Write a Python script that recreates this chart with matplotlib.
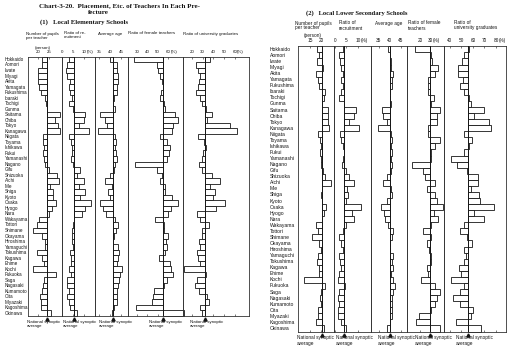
import matplotlib
matplotlib.use("Agg")
import matplotlib.pyplot as plt
from matplotlib import transforms

# ---------------- data ----------------
prefectures = ["Hokkaido", "Aomori", "Iwate", "Miyagi", "Akita", "Yamagata", "Fukushima",
               "Ibaraki", "Tochigi", "Gunma", "Saitama", "Chiba", "Tokyo", "Kanagawa",
               "Niigata", "Toyama", "Ishikawa", "Fukui", "Yamanashi", "Nagano", "Gifu",
               "Shizuoka", "Aichi", "Mie", "Shiga", "Kyoto", "Osaka", "Hyogo", "Nara",
               "Wakayama", "Tottori", "Shimane", "Okayama", "Hiroshima", "Yamaguchi",
               "Tokushima", "Kagawa", "Ehime", "Kochi", "Fukuoka", "Saga", "Nagasaki",
               "Kumamoto", "Oita", "Miyazaki", "Kagoshima", "Okinawa"]

# (1) Local elementary schools
el_pupils = [22.0, 21.8, 20.2, 20.2, 19.9, 20.7, 21.3, 23.2, 23.7, 24.3, 30.1, 27.8, 29.3, 30.1,
             22.2, 22.5, 22.9, 22.2, 22.9, 23.2, 25.2, 28.5, 29.8, 25.5, 27.0, 26.7, 28.2, 26.6,
             25.1, 20.5, 19.8, 17.9, 22.0, 23.2, 23.2, 19.8, 22.0, 22.8, 17.9, 28.1, 22.8, 22.3,
             22.0, 21.0, 21.3, 21.3, 25.8]
el_pupils_avg = 24.0
el_recruit = [3.0, 2.3, 2.0, 2.3, 3.8, 3.0, 3.8, 4.5, 3.0, 5.0, 10.6, 9.8, 7.6, 12.1, 3.0, 4.2,
              4.5, 4.5, 4.2, 4.8, 8.3, 6.8, 9.8, 7.6, 10.6, 8.3, 13.4, 10.6, 9.1, 5.6, 5.0, 4.5,
              4.5, 4.5, 5.0, 3.5, 4.2, 4.2, 3.0, 4.1, 2.3, 2.3, 3.0, 2.3, 3.0, 3.8, 6.8]
el_recruit_avg = 5.3
el_age = [40.0, 43.0, 43.0, 43.8, 43.8, 43.3, 43.0, 41.8, 41.2, 42.3, 35.4, 37.7, 38.5, 34.7,
          42.3, 42.7, 42.3, 42.7, 43.0, 42.3, 42.0, 40.0, 37.7, 40.7, 39.2, 40.0, 35.4, 37.0,
          38.2, 42.3, 43.8, 42.7, 41.8, 41.2, 43.8, 44.2, 43.8, 43.0, 45.3, 44.5, 44.2, 43.8,
          43.3, 43.0, 43.0, 42.0, 40.7]
el_age_avg = 41.5
el_female = [27.0, 49.0, 50.5, 52.0, 53.7, 54.7, 52.8, 52.1, 55.9, 56.9, 66.4, 69.6, 64.8, 63.2,
             52.1, 58.5, 61.6, 61.0, 58.5, 28.3, 49.0, 53.7, 52.1, 56.9, 56.9, 63.2, 69.6, 62.6,
             59.4, 47.4, 55.6, 56.3, 59.4, 57.8, 58.8, 56.9, 51.5, 62.0, 62.6, 64.2, 58.8, 55.8,
             46.1, 45.1, 44.2, 29.3, 75.3]
el_female_avg = 55.3
el_univ = [36.7, 24.2, 25.8, 27.3, 26.7, 25.8, 24.2, 27.3, 28.9, 32.9, 38.3, 34.2, 55.4, 61.7,
           25.8, 31.1, 32.9, 30.4, 28.9, 26.7, 28.9, 38.3, 46.1, 36.7, 41.4, 39.8, 50.8, 42.0,
           24.8, 27.9, 35.8, 29.5, 28.9, 26.4, 27.9, 24.8, 25.8, 27.9, 12.3, 33.3, 24.8, 22.6,
           26.4, 34.2, 35.8, 27.9, 29.5]
el_univ_avg = 32.0

# (2) Local lower secondary schools
ls_pupils = [18.0, 19.2, 18.3, 21.1, 17.7, 18.8, 19.2, 21.8, 21.4, 20.6, 23.3, 23.3, 23.3, 23.8,
             18.8, 19.5, 20.0, 19.5, 19.8, 19.8, 20.8, 21.8, 24.4, 20.6, 20.0, 20.6, 22.1, 21.4,
             20.6, 17.7, 18.8, 15.8, 19.2, 20.0, 18.8, 18.0, 19.2, 19.2, 12.4, 21.8, 19.8, 19.7,
             20.0, 18.5, 18.8, 17.7, 21.4]
ls_pupils_avg = 20.3
ls_recruit = [3.3, 1.8, 2.2, 2.5, 3.5, 2.5, 3.3, 2.5, 1.8, 4.0, 9.1, 8.3, 6.2, 10.5, 2.2, 2.8,
              3.3, 4.0, 3.4, 3.0, 4.7, 6.2, 8.3, 5.2, 5.7, 5.0, 11.2, 7.3, 8.3, 5.0, 3.3, 1.8,
              2.5, 3.3, 1.8, 2.1, 2.5, 1.8, 1.5, 4.4, 1.8, 1.5, 1.8, 1.1, 1.5, 2.5, 5.0]
ls_recruit_avg = 3.7
ls_age = [39.0, 40.0, 40.3, 40.5, 41.5, 41.0, 40.8, 40.2, 40.2, 40.5, 36.2, 37.0, 38.5, 34.7,
          40.5, 40.8, 40.5, 40.8, 40.3, 41.0, 40.3, 38.8, 36.7, 40.5, 40.8, 38.5, 35.8, 37.3,
          37.7, 39.2, 41.5, 40.8, 40.2, 40.0, 41.5, 40.8, 41.2, 40.5, 41.5, 42.3, 41.2, 40.8,
          40.8, 40.8, 40.8, 40.2, 38.8]
ls_age_avg = 39.8
ls_female = [15.2, 30.5, 31.1, 36.8, 34.3, 27.9, 27.9, 27.9, 33.6, 30.1, 39.0, 35.8, 35.8, 27.9,
             27.9, 39.0, 34.3, 30.1, 30.1, 12.0, 23.2, 24.7, 34.3, 26.3, 34.3, 35.8, 42.2, 33.6,
             36.8, 30.1, 23.2, 30.1, 26.3, 28.9, 30.1, 30.1, 26.3, 27.9, 20.9, 34.3, 39.0, 35.8,
             34.3, 30.1, 19.3, 16.2, 39.0]
ls_female_avg = 29.5
ls_univ = [57.0, 52.6, 50.4, 46.9, 46.9, 51.2, 49.2, 52.6, 56.9, 58.4, 69.8, 61.2, 74.1, 76.1,
           52.1, 58.9, 56.9, 52.6, 41.2, 46.4, 54.6, 64.1, 64.6, 58.4, 65.5, 66.4, 78.4, 61.2,
           69.8, 52.6, 49.2, 54.6, 58.9, 52.1, 54.1, 52.6, 47.5, 49.8, 41.2, 52.1, 48.4, 42.6,
           48.4, 59.8, 58.4, 45.5, 66.9]
ls_univ_avg = 55.5

title1 = "Chart-3-20.  Placement, Etc. of Teachers In Each Pre-"
title2 = "fecture"
sub1 = "(1)   Local Elementary Schools"
sub2 = "(2)   Local Lower Secondary Schools"
avg_label = "National synoptic\naverage"

# ---------------- layout ----------------
W, H = 519, 354
INK = "#151515"
SANS = "Liberation Sans"
SERIF = "Liberation Serif"

fig = plt.figure(figsize=(W / 100, H / 100), dpi=100)
fig.patch.set_facecolor("white")


def fx(x):
    return x / W


def fy(y):
    return 1 - y / H


def panel(x0, x1, y0, y1, values, avg, xlim, ticks, pct, fs, pad):
    ax = fig.add_axes([fx(x0), fy(y1), (x1 - x0) / W, (y1 - y0) / H])
    ax.patch.set_alpha(0)
    n = len(values)
    ys = list(range(n))
    ax.barh(ys, [v - avg for v in values], left=avg, height=1.0, color="white",
            edgecolor=INK, linewidth=0.6, clip_on=False, zorder=2)
    ax.axvline(avg, color=INK, lw=0.65, zorder=3)
    ax.set_xlim(*xlim)
    ax.set_ylim(n - 0.5, -0.5)
    ax.set_yticks([])
    ax.xaxis.tick_top()
    ax.set_xticks(ticks)
    ax.set_xticklabels([str(t) for t in ticks], fontsize=fs, family=SANS, color=INK)
    ax.tick_params(axis="x", direction="in", length=1.5, width=0.4, pad=pad,
                   top=True, bottom=True, labeltop=True, labelbottom=False, colors=INK)
    for s in ax.spines.values():
        s.set_linewidth(0.6)
        s.set_color("#333333")
    if pct:
        w = len(str(ticks[-1])) * 0.556 * fs
        ax.annotate("(%)", xy=(ticks[-1], 1), xycoords=("data", "axes fraction"),
                    xytext=(w / 2, pad), textcoords="offset points", ha="left", va="bottom",
                    fontsize=fs, family=SANS, color=INK, annotation_clip=False)
    tr = transforms.offset_copy(ax.get_xaxis_transform(), fig=fig, x=0, y=-3.2, units="dots")
    ax.plot([avg], [0], marker="^", ms=2.3, color=INK, transform=tr, clip_on=False)
    return ax


# ---- left section (elementary) ----
L_top, L_bot = 56.7, 316.0
Lx = [28, 62, 95, 128, 183, 249]
left_specs = [
    (el_pupils, el_pupils_avg, (15.5, 31.0), [20, 25], False),
    (el_recruit, el_recruit_avg, (0.0, 15.0), [0, 5, 10], True),
    (el_age, el_age_avg, (33.2, 48.2), [35, 40, 45], False),
    (el_female, el_female_avg, (21.7, 74.1), [30, 40, 50, 60], True),
    (el_univ, el_univ_avg, (11.6, 73.3), [20, 30, 40, 50, 60], True),
]
left_axes = []
for i, (vals, avg, xl, tk, pc) in enumerate(left_specs):
    left_axes.append(panel(Lx[i], Lx[i + 1], L_top, L_bot, vals, avg, xl, tk, pc, 3.2, 1.6))

# ---- right section (lower secondary) ----
R_top, R_bot = 46.3, 331.5
Rx = [298, 334, 371, 407, 444, 506]
right_specs = [
    (ls_pupils, ls_pupils_avg, (9.5, 25.9), [15, 20], False),
    (ls_recruit, ls_recruit_avg, (-0.43, 15.65), [0, 5, 10], True),
    (ls_age, ls_age_avg, (31.4, 47.7), [35, 40, 45], False),
    (ls_female, ls_female_avg, (7.6, 42.9), [20, 30], True),
    (ls_univ, ls_univ_avg, (34.9, 88.7), [40, 50, 60, 70, 80], True),
]
right_axes = []
for i, (vals, avg, xl, tk, pc) in enumerate(right_specs):
    right_axes.append(panel(Rx[i], Rx[i + 1], R_top, R_bot, vals, avg, xl, tk, pc, 3.4, 2.2))

# prefecture labels
trL = transforms.blended_transform_factory(fig.transFigure, left_axes[0].transData)
trR = transforms.blended_transform_factory(fig.transFigure, right_axes[0].transData)
for i, name in enumerate(prefectures):
    fig.text(fx(5), i, name, transform=trL, fontsize=3.3, family=SANS, color=INK,
             ha="left", va="center")
    fig.text(fx(270), i, name, transform=trR, fontsize=3.6, family=SANS, color=INK,
             ha="left", va="center")

# titles
fig.text(fx(39), fy(3.5), title1, fontsize=5.0, family=SERIF, weight="bold", color=INK,
         ha="left", va="top")
fig.text(fx(88), fy(10.5), title2, fontsize=5.0, family=SERIF, weight="bold", color=INK,
         ha="left", va="top")
fig.text(fx(40), fy(19), sub1, fontsize=4.9, family=SERIF, weight="semibold", color=INK,
         ha="left", va="top")
fig.text(fx(306), fy(10), sub2, fontsize=4.7, family=SERIF, weight="semibold", color=INK,
         ha="left", va="top")

# column headers
hdr_fs = 3.2
left_headers = [(26, "Number of pupils\nper teacher"), (64, "Ratio of re-\ncruitment"),
                (98, "Average age"), (128, "Ratio of female teachers"),
                (183, "Ratio of university graduates")]
for x, t in left_headers:
    fig.text(fx(x), fy(31.5), t, fontsize=hdr_fs, family=SANS, color=INK, ha="left",
             va="top", linespacing=1.0)
fig.text(fx(35), fy(45.5), "(person)", fontsize=hdr_fs, family=SANS, color=INK,
         ha="left", va="top")

right_headers = [(295, "Number of pupils\nper teacher"), (339, "Ratio of\nrecruitment"),
                 (375, "Average age"), (408, "Ratio of female\nteachers"),
                 (454, "Ratio of\nuniversity graduates")]
for x, t in right_headers:
    fig.text(fx(x), fy(20.5), t, fontsize=3.4, family=SANS, color=INK, ha="left",
             va="top", linespacing=1.0)
fig.text(fx(304), fy(33.5), "(person)", fontsize=3.4, family=SANS, color=INK,
         ha="left", va="top")

# "National synoptic average" notes
for x in [27, 63, 99, 149, 190]:
    fig.text(fx(x), fy(320.5), avg_label, fontsize=3.2, family=SANS, color=INK,
             ha="left", va="top", linespacing=1.0)
for x in [297, 336, 378, 415, 456]:
    fig.text(fx(x), fy(335.5), avg_label, fontsize=3.4, family=SANS, color=INK,
             ha="left", va="top", linespacing=1.0)

fig.savefig("out.png", dpi=100, facecolor="white")
